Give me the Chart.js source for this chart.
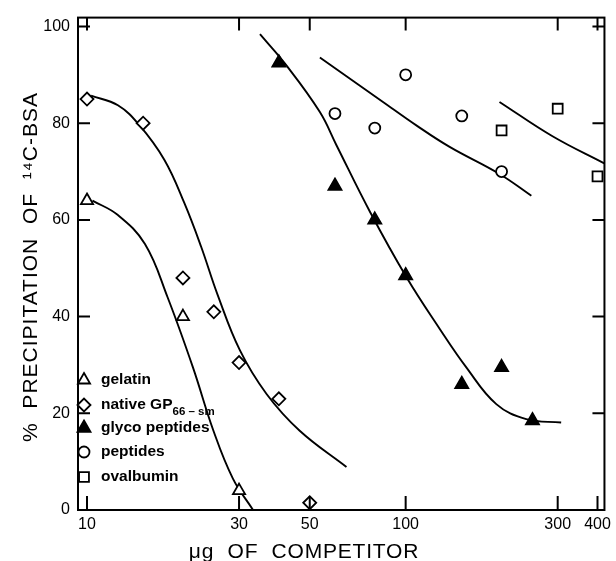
<!DOCTYPE html>
<html>
<head>
<meta charset="utf-8">
<script src="https://cdn.jsdelivr.net/npm/chart.js@4"></script>
<style>
html, body { margin: 0; padding: 0; background: #fff; }
canvas { display: block; }
</style>
</head>
<body>
<canvas id="competitionChart" width="616" height="561"></canvas>
<script>
const xTicks = [10, 30, 50, 100, 300, 400];
const yTicks = [0, 20, 40, 60, 80, 100];

// measured points
const gelatinX = [10, 20, 30];
const gelatinY = [64, 40, 4];
const nativeX = [10, 15, 20, 25, 30, 40, 50];
const nativeY = [85, 80, 48, 41, 30.5, 23, 1.5];
const glycoX = [40, 60, 80, 100, 150, 200, 250];
const glycoY = [92.5, 67, 60, 48.5, 26, 29.5, 18.5];
const peptideX = [60, 80, 100, 150, 200];
const peptideY = [82, 79, 90, 81.5, 70];
const ovalX = [200, 300, 400];
const ovalY = [78.5, 83, 69];

// fitted curves
const gelatinCurveX = [10.4, 12.5, 15.2, 17.9, 21.5, 24.9, 28.7, 33.2];
const gelatinCurveY = [64, 61, 55, 44, 29.5, 16.5, 6.5, 0];
const nativeCurveX = [10.3, 12.5, 14.6, 17.5, 20.2, 22.8, 25.7, 30.2, 36.6, 46.5, 65.2];
const nativeCurveY = [85.7, 83.7, 79.6, 72.4, 63.5, 54.5, 44.5, 33, 24, 16.4, 8.9];
const glycoCurveX = [34.9, 42.3, 53.8, 60.6, 77.1, 100.5, 127.8, 155, 192.5, 239, 307.6];
const glycoCurveY = [98.4, 91.9, 82.3, 75.5, 61.8, 48.2, 37.5, 29.5, 21.9, 18.8, 18.1];
const peptideCurveX = [53.8, 84.9, 108.3, 137.4, 197, 248];
const peptideCurveY = [93.6, 84.4, 79.5, 75.1, 69.5, 65];
const ovalCurveX = [197, 289, 420];
const ovalCurveY = [84.4, 77.3, 71.7];

const legendItems = [
    { label: 'gelatin', style: 'triangle', radius: 7, fill: '#fff' },
    { label: 'native GP', sub: '66 \u2013 sm', style: 'rectRot', radius: 6.5, fill: '#fff' },
    { label: 'glyco peptides', style: 'triangle', radius: 7.5, fill: '#000' },
    { label: 'peptides', style: 'circle', radius: 5.5, fill: '#fff' },
    { label: 'ovalbumin', style: 'rect', radius: 7, fill: '#fff' }
];

const fontFamily = '"Liberation Sans", Arial, Helvetica, sans-serif';

function toPoints(xs, ys) {
    return xs.map((x, i) => ({ x: x, y: ys[i] }));
}

function markSet(label, xs, ys, style, radius, fill) {
    return {
        label: label,
        data: toPoints(xs, ys),
        showLine: false,
        pointStyle: style,
        pointRadius: radius,
        pointHoverRadius: radius,
        pointBackgroundColor: fill,
        pointBorderColor: '#000',
        pointBorderWidth: 1.8
    };
}

function curveSet(xs, ys) {
    return {
        data: toPoints(xs, ys),
        showLine: true,
        borderColor: '#000',
        borderWidth: 1.9,
        pointRadius: 0,
        pointHoverRadius: 0,
        tension: 0.4,
        fill: false
    };
}

const framePlugin = {
    id: 'frameAndText',
    afterDraw(chart) {
        const { ctx, chartArea: a, scales: { x, y } } = chart;
        ctx.save();
        ctx.strokeStyle = '#000';
        ctx.fillStyle = '#000';
        ctx.lineWidth = 2;
        ctx.strokeRect(a.left, a.top, a.right - a.left, a.bottom - a.top);

        // inward tick marks on all four sides
        ctx.beginPath();
        xTicks.forEach(v => {
            const px = x.getPixelForValue(v);
            ctx.moveTo(px, a.bottom); ctx.lineTo(px, a.bottom - 14);
            ctx.moveTo(px, a.top); ctx.lineTo(px, a.top + 13);
        });
        yTicks.forEach(v => {
            if (v === 0) return;
            const py = y.getPixelForValue(v);
            ctx.moveTo(a.left, py); ctx.lineTo(a.left + 12, py);
            ctx.moveTo(a.right, py); ctx.lineTo(a.right - 12, py);
        });
        ctx.stroke();

        // axis titles
        ctx.font = '21px ' + fontFamily;
        ctx.textAlign = 'center';
        ctx.textBaseline = 'alphabetic';
        ctx.letterSpacing = '0.8px';
        ctx.fillText('\u03bcg  OF  COMPETITOR', 304, 558);

        ctx.save();
        ctx.letterSpacing = '1px';
        ctx.translate(37, 267);
        ctx.rotate(-Math.PI / 2);
        ctx.fillText('%  PRECIPITATION  OF  \u00b9\u2074C-BSA', 0, 0);
        ctx.restore();
        ctx.letterSpacing = '0px';

        // legend in the lower left of the plot
        const rows = [380, 405, 428, 452, 477];
        legendItems.forEach((item, i) => {
            const ly = rows[i];
            ctx.fillStyle = item.fill;
            ctx.strokeStyle = '#000';
            ctx.lineWidth = 1.8;
            Chart.helpers.drawPoint(ctx, { pointStyle: item.style, radius: item.radius, borderWidth: 1.8 }, 84, ly);
            ctx.fillStyle = '#000';
            ctx.textAlign = 'left';
            ctx.font = 'bold 15.5px ' + fontFamily;
            ctx.fillText(item.label, 101, ly + 4);
            if (item.sub) {
                const w = ctx.measureText(item.label).width;
                ctx.font = 'bold 11.5px ' + fontFamily;
                ctx.fillText(item.sub, 101 + w, ly + 10);
            }
        });
        ctx.restore();
    }
};

const ctx = document.getElementById('competitionChart').getContext('2d');
new Chart(ctx, {
    type: 'scatter',
    data: {
        datasets: [
            markSet('gelatin', gelatinX, gelatinY, 'triangle', 7, '#fff'),
            markSet('native GP66-sm', nativeX, nativeY, 'rectRot', 6.5, '#fff'),
            markSet('glyco peptides', glycoX, glycoY, 'triangle', 7.5, '#000'),
            markSet('peptides', peptideX, peptideY, 'circle', 5.5, '#fff'),
            markSet('ovalbumin', ovalX, ovalY, 'rect', 7, '#fff'),
            curveSet(gelatinCurveX, gelatinCurveY),
            curveSet(nativeCurveX, nativeCurveY),
            curveSet(glycoCurveX, glycoCurveY),
            curveSet(peptideCurveX, peptideCurveY),
            curveSet(ovalCurveX, ovalCurveY)
        ]
    },
    options: {
        responsive: false,
        animation: false,
        layout: { padding: { top: 13, right: 11, left: 0, bottom: 0 } },
        plugins: {
            legend: { display: false },
            tooltip: { enabled: false }
        },
        scales: {
            x: {
                type: 'logarithmic',
                min: 9.37,
                max: 420.6,
                afterBuildTicks: s => { s.ticks = xTicks.map(v => ({ value: v })); },
                afterFit: s => { s.height = 51; },
                grid: { display: false, drawTicks: false },
                border: { display: false },
                ticks: {
                    color: '#000',
                    font: { family: fontFamily, size: 16 },
                    padding: 5,
                    maxRotation: 0,
                    autoSkip: false,
                    callback: v => String(v)
                }
            },
            y: {
                type: 'linear',
                min: 0,
                max: 101.84,
                afterBuildTicks: s => { s.ticks = yTicks.map(v => ({ value: v })); },
                afterFit: s => { s.width = 78; },
                grid: { display: false, drawTicks: false },
                border: { display: false },
                ticks: {
                    color: '#000',
                    font: { family: fontFamily, size: 16 },
                    padding: 8,
                    callback: v => String(v)
                }
            }
        }
    },
    plugins: [framePlugin]
});
</script>
</body>
</html>
